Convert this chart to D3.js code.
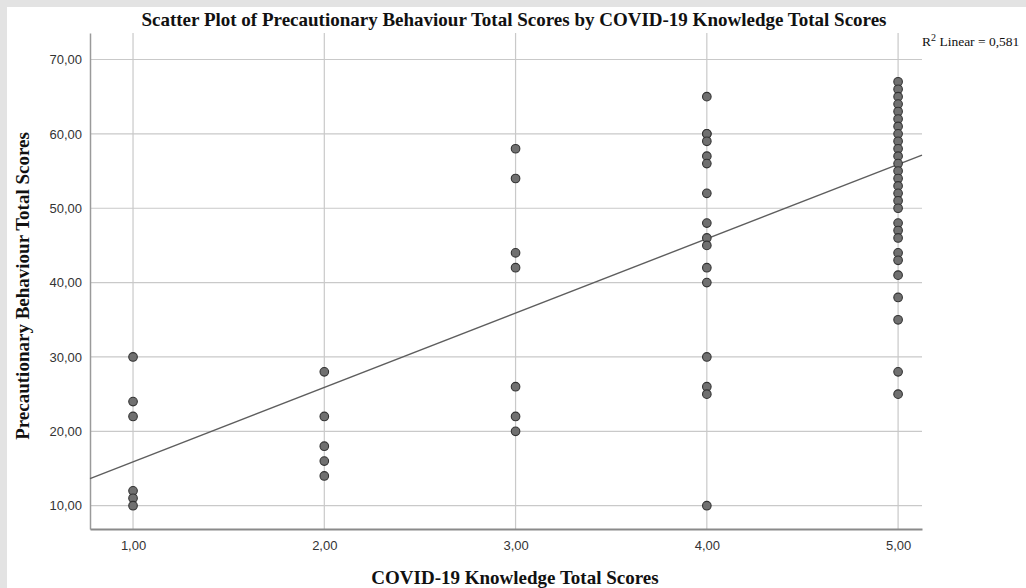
<!DOCTYPE html>
<html>
<head>
<meta charset="utf-8">
<script src="https://cdn.jsdelivr.net/npm/d3@7"></script>
<style>
  html, body { margin: 0; padding: 0; background: #e3e3e3; }
  svg { display: block; }
</style>
</head>
<body>
<div id="chart"></div>
<script>
// Data
const xTicks = [1, 2, 3, 4, 5];
const yTicks = [10, 20, 30, 40, 50, 60, 70];

const scores1 = [30, 24, 22, 12, 11, 10];
const scores2 = [28, 22, 18, 16, 14];
const scores3 = [58, 54, 44, 42, 26, 22, 20];
const scores4 = [65, 60, 60, 59, 57, 56, 52, 48, 46, 45, 42, 40, 30, 26, 25, 10];
const scores5 = [67, 66, 65, 64, 63, 62, 61, 60, 59, 58, 57, 56, 55, 54, 53, 52, 51, 50,
                 48, 47, 46, 44, 43, 41, 38, 35, 28, 25];

// fit line (SPSS linear fit)
const fitIntercept = 5.9;
const fitSlope = 10.0;
const rSquared = '0,581';

const width = 1026;
const height = 588;

const margin = { left: 90, right: 104, top: 33, bottom: 59 };

const svg = d3.select('#chart')
  .append('svg')
  .attr('width', width)
  .attr('height', height);

// white page with grey strip on top/left
svg.append('rect')
  .attr('x', 7).attr('y', 7)
  .attr('width', width - 7).attr('height', height - 7)
  .attr('fill', '#ffffff');

const x = d3.scaleLinear()
  .domain([0.775, 5.125])
  .range([margin.left, width - margin.right]);

const y = d3.scaleLinear()
  .domain([6.87, 73.56])
  .range([height - margin.bottom, margin.top]);

const fmt = d => d.toFixed(2).replace('.', ',');

// grid lines
svg.append('g')
  .selectAll('line')
  .data(yTicks)
  .join('line')
  .attr('x1', x.range()[0]).attr('x2', x.range()[1])
  .attr('y1', d => y(d)).attr('y2', d => y(d))
  .attr('stroke', '#c9c9c9')
  .attr('stroke-width', 1.2);

svg.append('g')
  .selectAll('line')
  .data(xTicks)
  .join('line')
  .attr('x1', d => x(d)).attr('x2', d => x(d))
  .attr('y1', y.range()[0]).attr('y2', y.range()[1])
  .attr('stroke', '#c9c9c9')
  .attr('stroke-width', 1.2);

// axes
const yAxis = svg.append('g')
  .attr('transform', `translate(${margin.left},0)`)
  .call(d3.axisLeft(y).tickValues(yTicks).tickFormat(fmt).tickSize(0).tickPadding(8));

const xAxis = svg.append('g')
  .attr('transform', `translate(0,${height - margin.bottom})`)
  .call(d3.axisBottom(x).tickValues(xTicks).tickFormat(fmt).tickSize(0).tickPadding(12));

yAxis.select('.domain').attr('stroke', '#9a9a9a').attr('stroke-width', 1.5);
xAxis.select('.domain').attr('stroke', '#8a8a8a').attr('stroke-width', 2);

svg.selectAll('.tick text')
  .attr('fill', '#333')
  .style('font-family', 'Arial, "Liberation Sans", sans-serif')
  .style('font-size', '13px');

// fit line, clipped to plot
svg.append('line')
  .attr('x1', x(x.domain()[0])).attr('y1', y(fitIntercept + fitSlope * x.domain()[0]))
  .attr('x2', x(x.domain()[1])).attr('y2', y(fitIntercept + fitSlope * x.domain()[1]))
  .attr('stroke', '#5e5e5e')
  .attr('stroke-width', 1.4);

// points
const groups = [scores1, scores2, scores3, scores4, scores5];
const points = groups.flatMap((arr, i) => arr.map(v => ({ k: xTicks[i], v })));

svg.append('g')
  .selectAll('circle')
  .data(points)
  .join('circle')
  .attr('cx', d => x(d.k))
  .attr('cy', d => y(d.v))
  .attr('r', 4.3)
  .attr('fill', '#707070')
  .attr('stroke', '#333')
  .attr('stroke-width', 1.1);

// titles
const serif = '"Times New Roman", "Liberation Serif", serif';

svg.append('text')
  .attr('x', 514).attr('y', 26)
  .attr('text-anchor', 'middle')
  .style('font-family', serif)
  .style('font-weight', 'bold')
  .style('font-size', '19px')
  .attr('fill', '#111')
  .text('Scatter Plot of Precautionary Behaviour Total Scores by COVID-19 Knowledge Total Scores');

svg.append('text')
  .attr('x', 515).attr('y', 584)
  .attr('text-anchor', 'middle')
  .style('font-family', serif)
  .style('font-weight', 'bold')
  .style('font-size', '19px')
  .attr('fill', '#111')
  .text('COVID-19 Knowledge Total Scores');

svg.append('text')
  .attr('transform', 'translate(29,286) rotate(-90)')
  .attr('text-anchor', 'middle')
  .style('font-family', serif)
  .style('font-weight', 'bold')
  .style('font-size', '19px')
  .attr('fill', '#111')
  .text('Precautionary Behaviour Total Scores');

const r2 = svg.append('text')
  .attr('x', 922).attr('y', 46)
  .style('font-family', serif)
  .style('font-size', '13.5px')
  .attr('fill', '#111');
r2.append('tspan').text('R');
r2.append('tspan').attr('dy', -5).style('font-size', '10px').text('2');
r2.append('tspan').attr('dy', 5).text(' Linear = ' + rSquared);
</script>
</body>
</html>
